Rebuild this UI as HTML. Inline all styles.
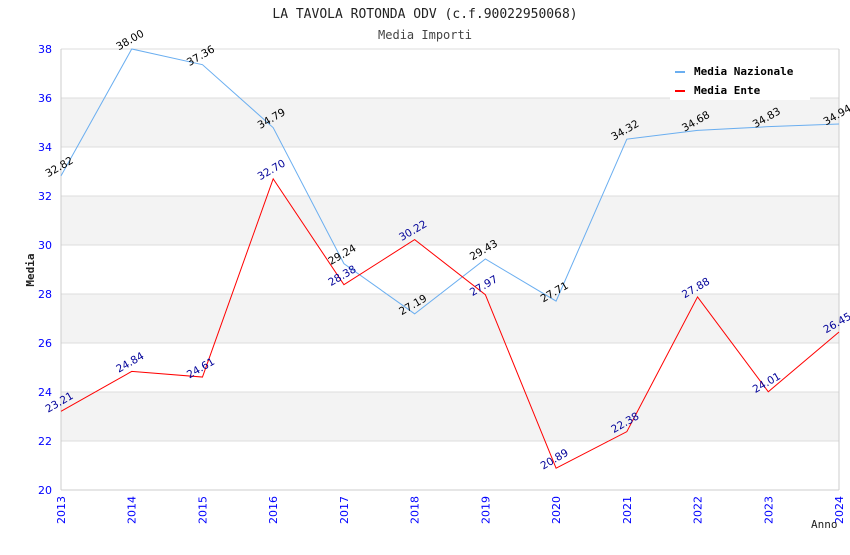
<!DOCTYPE html>
<html><head><meta charset="utf-8"><style>
body{margin:0;background:#fff;}
svg text{font-family:"DejaVu Sans Mono","Liberation Mono",monospace;}
svg text.s{font-family:"DejaVu Sans","Liberation Sans",sans-serif;}
</style></head><body>
<svg id="c" width="850" height="550" xmlns="http://www.w3.org/2000/svg">
<text x="425" y="18" text-anchor="middle" font-size="13" fill="#222">LA TAVOLA ROTONDA ODV (c.f.90022950068)</text>
<text x="425" y="39" text-anchor="middle" font-size="12" fill="#444">Media Importi</text>
<g id="grid"></g>
<g id="axes"></g>
<g id="series"></g>
<text x="34" y="270" transform="rotate(-90 34 270)" text-anchor="middle" font-size="11" font-weight="bold" fill="#222">Media</text>
<text x="811" y="528" font-size="11" fill="#222">Anno</text>
<g>
<rect x="670" y="58" width="140" height="42" fill="#fff"/>
<g>
<rect x="675" y="71" width="10" height="2" fill="#6aaef0"/>
<text x="694" y="75" font-size="11" font-weight="bold" fill="#000">Media Nazionale</text></g>
<g>
<rect x="675" y="90" width="10" height="2" fill="#f00"/>
<text x="694" y="94" font-size="11" font-weight="bold" fill="#000">Media Ente</text></g>
</g>
</svg>
<script>
const years=["2013","2014","2015","2016","2017","2018","2019","2020","2021","2022","2023","2024"];
const nazionale=[32.82,38.00,37.36,34.79,29.24,27.19,29.43,27.71,34.32,34.68,34.83,34.94];
const ente=[23.21,24.84,24.61,32.70,28.38,30.22,27.97,20.89,22.38,27.88,24.01,26.45];
const yTicks=[20,22,24,26,28,30,32,34,36,38];
const NS="http://www.w3.org/2000/svg";
const X0=61,X1=839,Y0=490,Y1=49,YMIN=20,YMAX=38;
const xs=i=>X0+(X1-X0)*i/(years.length-1);
const ys=v=>Y0-(v-YMIN)/(YMAX-YMIN)*(Y0-Y1);
function mk(t,a,p){const e=document.createElementNS(NS,t);for(const k in a)e.setAttribute(k,a[k]);p.appendChild(e);return e;}
const grid=document.getElementById('grid'),axes=document.getElementById('axes'),ser=document.getElementById('series');
for(let i=0;i<yTicks.length-1;i++){
 if(i%2===1){const r=mk('rect',{x:X0,y:ys(yTicks[i+1]),width:X1-X0,height:ys(yTicks[i])-ys(yTicks[i+1]),fill:'#f3f3f3'},grid);
 
 }
}
yTicks.forEach(t=>{
 const l=mk('line',{x1:X0,x2:X1,y1:ys(t),y2:ys(t),stroke:'#ddd'},grid);
 
 
 const tx=mk('text',{class:'s',x:X0-9,y:ys(t)+4,'text-anchor':'end','font-size':11,fill:'#00f'},axes);
 tx.textContent=t;
 
 
});
mk('line',{x1:X0,x2:X0,y1:Y1,y2:Y0,stroke:'#ccc'},axes);
mk('line',{x1:X1,x2:X1,y1:Y1,y2:Y0,stroke:'#ccc'},axes);
mk('line',{x1:X0,x2:X1,y1:Y0,y2:Y0,stroke:'#ccc'},axes);
years.forEach((y,i)=>{
 const tx=mk('text',{class:'s',x:0,y:0,'text-anchor':'end','font-size':11,fill:'#00f',transform:`translate(${xs(i)+4},${Y0+6}) rotate(-90)`},axes);
 tx.textContent=y;
 
 
});
function series(vals,col,lcol,name){
 const p=mk('polyline',{points:vals.map((v,i)=>xs(i)+','+ys(v)).join(' '),fill:'none',stroke:col,'stroke-width':1},ser);
 
 
 vals.forEach((v,i)=>{
  const t=mk('text',{class:'s',x:0,y:0,'text-anchor':'middle','font-size':10.5,fill:lcol,transform:`translate(${xs(i)},${ys(v)-6}) rotate(-30)`},ser);
  t.textContent=v.toFixed(2);
  
  
 });
}
series(nazionale,'#6aaef0','#000','nazionale');
series(ente,'#f00','#009','ente');
</script>
</body></html>
